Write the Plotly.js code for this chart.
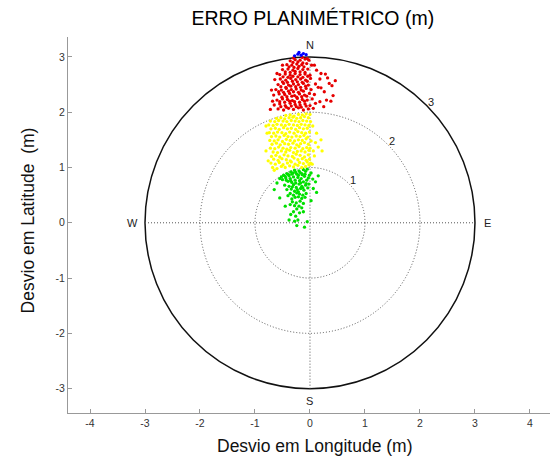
<!DOCTYPE html>
<html><head><meta charset="utf-8">
<script src="https://cdn.plot.ly/plotly-3.0.1.min.js"></script>
<style>body{margin:0;background:#fff}</style></head>
<body><div id="chart" style="width:551px;height:459px"></div>
<script>
// Longitude / latitude deviations (m)
const lonDev = [
 // green zone
 -0.42,-0.35,-0.28,-0.2,-0.12,-0.05,-0.31,-0.18,-0.08,-0.24,-0.48,-0.55,0.02,-0.14,-0.38,
 -0.5,-0.44,-0.36,-0.3,-0.22,-0.16,-0.1,-0.03,0.05,-0.27,-0.19,-0.4,-0.33,-0.12,-0.06,-0.6,0.1,
 -0.46,-0.38,-0.3,-0.25,-0.2,-0.15,-0.08,-0.34,-0.23,-0.17,-0.11,-0.04,-0.28,-0.42,0.06,
 -0.36,-0.3,-0.24,-0.19,-0.13,-0.07,-0.27,-0.21,-0.15,-0.33,-0.4,-0.09,
 -0.32,-0.25,-0.18,-0.12,-0.28,-0.2,-0.36,-0.15,-0.24,
 -0.3,-0.19,-0.26,-0.22,-0.28,-0.05,-0.1,-0.24,-0.35,
 -0.45,-0.39,-0.33,-0.26,-0.21,-0.15,-0.09,-0.01,-0.52,-0.43,-0.35,-0.26,-0.17,-0.07,-0.32,-0.21,-0.13,-0.02,
 -0.65,-0.55,0.12,0.15,-0.45,0.02,-0.12,-0.38,
 // yellow zone
 -0.68,-0.6,-0.52,-0.45,-0.37,-0.3,-0.22,-0.15,-0.08,-0.02,
 -0.71,-0.63,-0.56,-0.49,-0.41,-0.34,-0.27,-0.19,-0.12,-0.05,0.01,
 -0.66,-0.58,-0.51,-0.43,-0.36,-0.29,-0.22,-0.14,-0.07,-0.01,
 -0.7,-0.62,-0.55,-0.47,-0.4,-0.32,-0.25,-0.18,-0.1,-0.03,0.08,
 -0.67,-0.59,-0.52,-0.44,-0.37,-0.3,-0.23,-0.16,-0.09,-0.02,
 -0.72,-0.64,-0.57,-0.49,-0.42,-0.35,-0.27,-0.2,-0.13,-0.06,0.0,0.15,
 -0.69,-0.61,-0.54,-0.46,-0.39,-0.31,-0.24,-0.17,-0.1,-0.03,
 -0.73,-0.65,-0.58,-0.5,-0.43,-0.36,-0.28,-0.21,-0.14,-0.07,0.02,0.2,
 -0.7,-0.62,-0.55,-0.47,-0.4,-0.33,-0.25,-0.18,-0.11,-0.04,
 -0.74,-0.66,-0.59,-0.51,-0.44,-0.37,-0.29,-0.22,-0.15,-0.08,-0.01,0.12,
 -0.71,-0.63,-0.56,-0.48,-0.41,-0.34,-0.26,-0.19,-0.12,-0.05,
 -0.75,-0.67,-0.6,-0.52,-0.45,-0.38,-0.3,-0.23,-0.16,-0.09,-0.02,
 -0.72,-0.64,-0.57,-0.49,-0.42,-0.34,-0.27,-0.2,-0.13,-0.06,0.01,
 -0.61,-0.53,-0.46,-0.38,-0.31,-0.24,-0.17,-0.1,-0.03,
 -0.44,-0.36,-0.29,-0.21,-0.14,-0.07,0.0,
 -0.8,-0.78,-0.8,-0.76,0.06,0.1,0.05,0.22,0.04,-0.65,
 // red zone
 -0.58,-0.48,-0.39,-0.3,-0.21,-0.12,-0.03,0.06,
 -0.65,-0.55,-0.45,-0.36,-0.27,-0.18,-0.09,0.0,0.1,
 -0.6,-0.5,-0.41,-0.32,-0.23,-0.14,-0.05,0.04,0.3,
 -0.66,-0.56,-0.46,-0.37,-0.28,-0.19,-0.1,-0.01,0.08,0.42,
 -0.62,-0.52,-0.43,-0.34,-0.25,-0.16,-0.07,0.02,0.2,
 -0.58,-0.48,-0.39,-0.3,-0.21,-0.12,-0.03,0.1,0.35,
 -0.64,-0.54,-0.44,-0.35,-0.26,-0.17,-0.08,0.01,0.18,0.46,
 -0.55,-0.45,-0.36,-0.27,-0.18,-0.09,0.0,0.28,
 -0.5,-0.4,-0.31,-0.22,-0.13,-0.04,0.12,
 -0.42,-0.33,-0.24,-0.15,-0.06,0.03,
 -0.36,-0.27,-0.18,-0.09,-0.02,
 -0.53,-0.43,-0.34,-0.25,-0.16,-0.07,
 -0.55,-0.46,-0.37,-0.28,-0.19,-0.1,0.18,
 -0.51,-0.42,-0.33,-0.24,-0.15,-0.06,
 -0.57,-0.48,-0.39,-0.3,-0.21,-0.12,0.26,
 -0.53,-0.44,-0.35,-0.26,-0.17,-0.08,
 -0.5,-0.41,-0.32,-0.23,-0.14,-0.05,
 -0.49,-0.4,-0.31,-0.22,-0.13,-0.04,
 -0.45,-0.36,-0.27,-0.18,-0.09,
 -0.38,-0.29,-0.2,-0.11,
 -0.31,-0.22,-0.13,
 -0.3,-0.14,-0.05,
 -0.7,-0.68,-0.6,0.2,0.15,0.32,0.4,0.08,-0.5,0.25,0.38,-0.72,
 // blue zone
 -0.28,-0.22,-0.16,-0.12,-0.07,-0.2
];
const latDev = [
 0.89,0.92,0.95,0.94,0.96,0.97,0.9,0.91,0.93,0.88,0.86,0.8,0.9,0.87,0.85,
 0.78,0.81,0.8,0.83,0.82,0.8,0.84,0.81,0.79,0.77,0.76,0.75,0.73,0.74,0.77,0.72,0.74,
 0.68,0.66,0.69,0.64,0.7,0.66,0.68,0.61,0.6,0.62,0.59,0.63,0.57,0.6,0.62,
 0.53,0.5,0.54,0.52,0.5,0.53,0.46,0.47,0.44,0.43,0.49,0.46,
 0.38,0.36,0.39,0.35,0.31,0.3,0.33,0.27,0.25,
 0.2,0.18,0.12,0.05,0.03,0.02,-0.08,-0.05,0.15,
 0.84,0.87,0.88,0.91,0.86,0.89,0.88,0.86,0.83,0.77,0.76,0.72,0.72,0.71,0.65,0.56,0.63,0.7,
 0.6,0.45,0.55,0.85,0.3,0.4,0.2,0.05,
 1.0,0.98,1.02,1.0,1.03,1.01,1.04,1.0,1.02,1.05,
 1.08,1.06,1.09,1.05,1.08,1.1,1.06,1.09,1.07,1.1,1.08,
 1.15,1.13,1.16,1.14,1.12,1.17,1.14,1.16,1.13,1.15,
 1.2,1.22,1.19,1.23,1.21,1.2,1.24,1.22,1.19,1.23,1.21,
 1.28,1.27,1.3,1.28,1.31,1.27,1.29,1.3,1.28,1.31,
 1.35,1.34,1.37,1.35,1.33,1.36,1.35,1.38,1.34,1.36,1.35,1.37,
 1.42,1.44,1.41,1.43,1.42,1.44,1.41,1.43,1.45,1.42,
 1.49,1.48,1.5,1.47,1.51,1.49,1.48,1.5,1.49,1.52,1.48,1.5,
 1.56,1.57,1.55,1.58,1.56,1.55,1.57,1.56,1.58,1.55,
 1.63,1.62,1.64,1.63,1.61,1.64,1.62,1.65,1.63,1.62,1.64,1.62,
 1.7,1.71,1.69,1.72,1.7,1.71,1.69,1.72,1.7,1.71,
 1.77,1.76,1.78,1.77,1.76,1.78,1.77,1.76,1.78,1.77,1.76,
 1.84,1.83,1.85,1.84,1.83,1.85,1.84,1.83,1.85,1.84,1.83,
 1.89,1.9,1.88,1.9,1.91,1.89,1.9,1.92,1.9,
 1.94,1.95,1.93,1.96,1.95,1.97,1.96,
 1.3,1.62,1.75,1.12,1.3,1.45,1.75,1.3,1.06,0.95,
 2.06,2.04,2.07,2.05,2.08,2.04,2.06,2.07,
 2.13,2.15,2.12,2.16,2.14,2.13,2.15,2.12,2.16,
 2.22,2.24,2.23,2.21,2.25,2.23,2.22,2.24,2.22,
 2.31,2.33,2.32,2.34,2.3,2.33,2.31,2.34,2.32,2.3,
 2.41,2.4,2.43,2.41,2.42,2.4,2.43,2.41,2.44,
 2.5,2.52,2.49,2.51,2.5,2.52,2.49,2.51,2.52,
 2.59,2.6,2.58,2.61,2.59,2.6,2.58,2.61,2.6,2.57,
 2.68,2.69,2.67,2.7,2.68,2.69,2.67,2.69,
 2.77,2.78,2.76,2.79,2.77,2.78,2.76,
 2.86,2.85,2.87,2.86,2.88,2.85,
 2.93,2.95,2.94,2.96,2.94,
 2.1,2.09,2.11,2.1,2.09,2.11,
 2.19,2.18,2.2,2.19,2.18,2.2,2.19,
 2.27,2.28,2.29,2.27,2.28,2.29,
 2.37,2.36,2.38,2.37,2.36,2.38,2.37,
 2.46,2.45,2.47,2.46,2.45,2.47,
 2.55,2.54,2.56,2.55,2.54,2.56,
 2.64,2.63,2.65,2.64,2.63,2.65,
 2.73,2.72,2.74,2.73,2.72,
 2.82,2.81,2.83,2.82,
 2.9,2.91,2.89,
 2.98,2.99,2.97,
 2.4,2.2,2.7,2.7,2.45,2.62,2.48,2.85,2.85,2.1,2.2,2.05,
 3.02,3.05,3.03,3.06,3.04,3.08
];
const ringRadii = [1, 2, 3];
const ringLabels = ['1', '2', '3'];
const compassLabels = ['N', 'E', 'S', 'W'];
const compassAngles = [90, 0, -90, 180];
const xTicks = [-4, -3, -2, -1, 0, 1, 2, 3, 4];
const xTickText = ['-4', '-3', '-2', '-1', '0', '1', '2', '3', '4'];
const yTicks = [-3, -2, -1, 0, 1, 2, 3];
const yTickText = ['-3', '-2', '-1', '0', '1', '2', '3'];
const classColors = ['#00e000', '#ffff00', '#e60000', '#0000ff'];

const groups = classColors.map(() => ({x: [], y: []}));
for (let i = 0; i < lonDev.length; i++) {
  const r = Math.hypot(lonDev[i], latDev[i]);
  let k = 0;
  while (k < ringRadii.length && r >= ringRadii[k]) k++;
  groups[k].x.push(lonDev[i]);
  groups[k].y.push(latDev[i]);
}
const traces = groups.map((g, k) => ({
  type: 'scatter', mode: 'markers', x: g.x, y: g.y,
  marker: {size: 3.3, color: classColors[k], line: {width: 0}},
  hoverinfo: 'x+y', showlegend: false
}));

const rMax = ringRadii[ringRadii.length - 1];
const dotted = {color: '#555', width: 1, dash: '1px,2px'};
const shapes = ringRadii.map((r, i) => ({
  type: 'circle', xref: 'x', yref: 'y', x0: -r, y0: -r, x1: r, y1: r,
  line: i === ringRadii.length - 1 ? {color: '#111', width: 1.5} : dotted,
  layer: 'below'
}));
shapes.push({type: 'line', xref: 'x', yref: 'y', x0: -rMax, y0: 0, x1: rMax, y1: 0, line: dotted, layer: 'below'});
shapes.push({type: 'line', xref: 'x', yref: 'y', x0: 0, y0: -rMax, x1: 0, y1: rMax, line: dotted, layer: 'below'});

const fam = 'Liberation Sans, Arial, sans-serif';
const annFont = {family: fam, size: 11, color: '#222'};
const titleFont = {family: fam, size: 17.5, color: '#111'};
const annotations = [];
compassLabels.forEach((t, i) => {
  const a = compassAngles[i] * Math.PI / 180;
  const rr = rMax + 0.22;
  annotations.push({x: rr * Math.cos(a), y: rr * Math.sin(a), text: t, showarrow: false, font: annFont, xanchor: 'center', yanchor: 'middle'});
});
ringLabels.forEach((t, i) => {
  const rr = ringRadii[i] + 0.1;
  annotations.push({x: rr * Math.SQRT1_2, y: rr * Math.SQRT1_2, text: t, showarrow: false, font: annFont, xanchor: 'center', yanchor: 'middle'});
});
// axis titles
annotations.push({xref: 'paper', yref: 'paper', x: 0.512, y: -0.088, text: 'Desvio em Longitude (m)', showarrow: false, font: titleFont, xanchor: 'center', yanchor: 'middle'});
annotations.push({xref: 'paper', yref: 'paper', x: -0.084, y: 0.511, text: 'Desvio em Latitude  (m)', textangle: -90, showarrow: false, font: titleFont, xanchor: 'center', yanchor: 'middle'});

const axFont = {family: fam, size: 10.5, color: '#333'};
const layout = {
  width: 551, height: 459,
  margin: {l: 68, r: 1, t: 37, b: 46},
  paper_bgcolor: '#fff', plot_bgcolor: '#fff',
  title: {text: 'ERRO PLANIMÉTRICO (m)', font: {family: fam, size: 19.5, color: '#000'},
          xref: 'paper', x: 0.508, xanchor: 'center', yref: 'container', y: 0.961, yanchor: 'middle'},
  xaxis: {range: [-4.4, 4.364], tickvals: xTicks, ticktext: xTickText, ticks: 'inside', ticklen: 4, tickcolor: '#999',
          showline: true, linecolor: '#999', linewidth: 1, showgrid: false, zeroline: false, tickfont: axFont},
  yaxis: {range: [-3.44, 3.36], tickvals: yTicks, ticktext: yTickText, ticks: 'inside', ticklen: 4, tickcolor: '#999',
          showline: true, linecolor: '#999', linewidth: 1, showgrid: false, zeroline: false, tickfont: axFont},
  shapes: shapes,
  annotations: annotations
};
Plotly.newPlot('chart', traces, layout, {displayModeBar: false, staticPlot: true});
</script></body></html>
